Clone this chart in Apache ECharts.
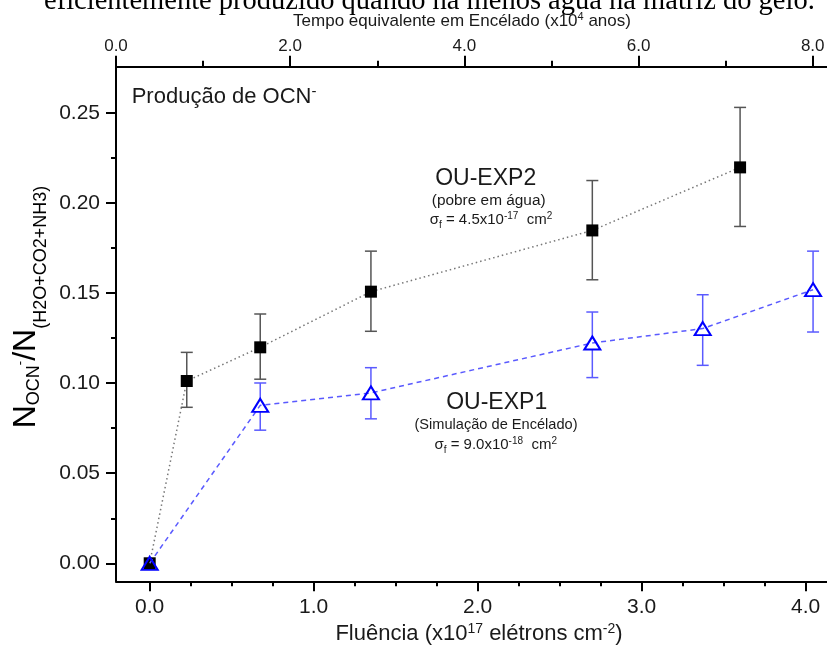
<!DOCTYPE html>
<html><head><meta charset="utf-8">
<script src="https://cdn.jsdelivr.net/npm/echarts@6/dist/echarts.min.js"></script>
<style>html,body{margin:0;padding:0;background:#fff}#c{width:827px;height:647px}</style>
</head><body><div id="c"></div>
<script>
// ---- data ----
const fluenceExp2 = [0, 0.226, 0.674, 1.349, 2.699, 3.600];
const ratioExp2   = [0, 0.1012, 0.1199, 0.1508, 0.1848, 0.2198];
const errLowExp2  = [null, 0.0866, 0.1022, 0.1288, 0.1574, 0.1870];
const errHighExp2 = [null, 0.1171, 0.1384, 0.1733, 0.2125, 0.2531];

const fluenceExp1 = [0, 0.674, 1.349, 2.699, 3.372, 4.045];
const ratioExp1   = [0, 0.0877, 0.0946, 0.1223, 0.1303, 0.1519];
const errLowExp1  = [null, 0.0739, 0.0802, 0.1031, 0.1099, 0.1284];
const errHighExp1 = [null, 0.1001, 0.1086, 0.1395, 0.1491, 0.1733];

const xTicks      = [0, 1, 2, 3, 4];
const xMinorTicks = [0.25, 0.5, 0.75, 1.25, 1.5, 1.75, 2.25, 2.5, 2.75, 3.25, 3.5, 3.75];
const yTicks      = [0, 0.05, 0.10, 0.15, 0.20, 0.25];
const yMinorTicks = [0.025, 0.075, 0.125, 0.175, 0.225];
const topTicks      = [0, 2, 4, 6, 8];
const topMinorTicks = [1, 3, 5, 7];

const X_MIN = -0.2055, X_MAX = 4.13;
const Y_MIN = -0.0100, Y_MAX = 0.2757;
const TOP_MIN = 0, TOP_MAX = 8.164;

// ---- helpers ----
const FAM = '"Liberation Sans", Arial, sans-serif';
const TXT = '#1a1a1a';
function rich(F, s) {
  const P0 = 4;
  return {
    b:   {fontSize: F, fontFamily: FAM, fill: TXT, verticalAlign: 'top', padding: [P0, 0, 0, 0]},
    sup: {fontSize: s, fontFamily: FAM, fill: TXT, verticalAlign: 'top', padding: [Math.max(0, P0 + 0.5 * F - 0.85 * s), 0, 0, 0]},
    sub: {fontSize: s, fontFamily: FAM, fill: TXT, verticalAlign: 'top', padding: [P0 + 1.07 * F - 0.85 * s, 0, 0, 0]}
  };
}
function richText(text, F, s, x, cy, align) {
  const baseline = cy + 0.36 * F;
  const top = baseline - (4 + 0.8465 * F);
  return {
    type: 'text', x: x, y: top, silent: true,
    style: {text: text, rich: rich(F, s), align: align || 'center', textAlign: align || 'center',
            verticalAlign: 'top', textVerticalAlign: 'top'}
  };
}
function plainText(text, F, x, cy, align, family, color) {
  return {
    type: 'text', x: x, y: cy, silent: true,
    style: {text: text, fontSize: F, fontFamily: family || FAM, fill: color || TXT,
            align: align || 'center', textAlign: align || 'center',
            verticalAlign: 'middle', textVerticalAlign: 'middle'}
  };
}
function errData(xs, lo, hi, ys) {
  const out = [];
  for (let i = 0; i < xs.length; i++) {
    if (lo[i] == null) continue;
    out.push([xs[i], ys[i], lo[i], hi[i]]);
  }
  return out;
}
function errRender(color, gap) {
  return function (params, api) {
    const p = api.coord([api.value(0), api.value(1)]);
    const pl = api.coord([api.value(0), api.value(2)]);
    const ph = api.coord([api.value(0), api.value(3)]);
    const hw = 6;
    const st = {stroke: color, lineWidth: 1.5};
    return {
      type: 'group',
      children: [
        {type: 'line', shape: {x1: p[0], y1: ph[1], x2: p[0], y2: p[1] - gap}, style: st},
        {type: 'line', shape: {x1: p[0], y1: p[1] + gap, x2: p[0], y2: pl[1]}, style: st},
        {type: 'line', shape: {x1: p[0] - hw, y1: ph[1], x2: p[0] + hw, y2: ph[1]}, style: st},
        {type: 'line', shape: {x1: p[0] - hw, y1: pl[1], x2: p[0] + hw, y2: pl[1]}, style: st}
      ]
    };
  };
}
function pairs(xs, ys) { return xs.map((x, i) => [x, ys[i]]); }

const AX = {color: '#000', width: 2};
const chart = echarts.init(document.getElementById('c'), null, {renderer: 'canvas'});
chart.setOption({
  animation: false,
  backgroundColor: '#fff',
  grid: {left: 116, right: 0, top: 66.7, bottom: 65.7, containLabel: false, outerBoundsMode: 'none'},
  xAxis: [
    {type: 'value', position: 'bottom', min: X_MIN, max: X_MAX,
     axisLine: {show: true, onZero: false, lineStyle: AX},
     axisTick: {show: true, customValues: xTicks, length: 10, lineStyle: AX},
     axisLabel: {show: true, customValues: xTicks, formatter: v => v.toFixed(1), fontSize: 21,
                 fontFamily: FAM, color: TXT, margin: 15},
     splitLine: {show: false}},
    {type: 'value', position: 'bottom', min: X_MIN, max: X_MAX,
     axisLine: {show: false, onZero: false},
     axisTick: {show: true, customValues: xMinorTicks, length: 5, lineStyle: AX},
     axisLabel: {show: false}, splitLine: {show: false}},
    {type: 'value', position: 'top', min: TOP_MIN, max: TOP_MAX,
     axisLine: {show: true, onZero: false, lineStyle: AX},
     axisTick: {show: true, customValues: topTicks, length: 11, lineStyle: AX},
     axisLabel: {show: true, customValues: topTicks, formatter: v => v.toFixed(1), fontSize: 17,
                 fontFamily: FAM, color: TXT, margin: 12},
     splitLine: {show: false}},
    {type: 'value', position: 'top', min: TOP_MIN, max: TOP_MAX,
     axisLine: {show: false, onZero: false},
     axisTick: {show: true, customValues: topMinorTicks, length: 6, lineStyle: AX},
     axisLabel: {show: false}, splitLine: {show: false}}
  ],
  yAxis: [
    {type: 'value', position: 'left', min: Y_MIN, max: Y_MAX,
     axisLine: {show: true, onZero: false, lineStyle: AX},
     axisTick: {show: true, customValues: yTicks, length: 10, lineStyle: AX},
     axisLabel: {show: true, customValues: yTicks, formatter: v => v.toFixed(2), fontSize: 21,
                 fontFamily: FAM, color: TXT, margin: 16},
     splitLine: {show: false}},
    {type: 'value', position: 'left', min: Y_MIN, max: Y_MAX,
     axisLine: {show: false, onZero: false},
     axisTick: {show: true, customValues: yMinorTicks, length: 5, lineStyle: AX},
     axisLabel: {show: false}, splitLine: {show: false}}
  ],
  series: [
    {type: 'custom', name: 'errExp2', xAxisIndex: 0, yAxisIndex: 0, z: 2,
     renderItem: errRender('#555555', 0), data: errData(fluenceExp2, errLowExp2, errHighExp2, ratioExp2)},
    {type: 'line', name: 'OU-EXP2', xAxisIndex: 0, yAxisIndex: 0, z: 3,
     data: pairs(fluenceExp2, ratioExp2),
     symbol: 'rect', symbolSize: 12, itemStyle: {color: '#000'},
     lineStyle: {color: '#777', width: 1.5, type: [1.5, 3]}},
    {type: 'custom', name: 'errExp1', xAxisIndex: 0, yAxisIndex: 0, z: 4,
     renderItem: errRender('#5a5aff', 6), data: errData(fluenceExp1, errLowExp1, errHighExp1, ratioExp1)},
    {type: 'line', name: 'OU-EXP1', xAxisIndex: 0, yAxisIndex: 0, z: 5,
     data: pairs(fluenceExp1, ratioExp1),
     symbol: 'triangle', symbolSize: [16, 13],
     itemStyle: {color: 'rgba(255,255,255,0)', borderColor: '#0000ff', borderWidth: 2},
     lineStyle: {color: '#5a5aff', width: 1.5, type: [5, 4]}}
  ],
  graphic: [
    plainText('eficientemente produzido quando há menos água na matriz do gelo.', 28.5, 44, 1.5, 'left',
              '"Liberation Serif", "Times New Roman", serif', '#000'),
    richText('{b|Tempo equivalente em Encélado (x10}{sup|4}{b| anos)}', 17, 11, 462, 20.7),
    richText('{b|Fluência (x10}{sup|17}{b| elétrons cm}{sup|-2}{b|)}', 22, 14, 479, 633.3),
    richText('{b|Produção de OCN}{sup|-}', 22, 15, 131.7, 96.7, 'left'),
    plainText('OU-EXP2', 23, 485.7, 178.3),
    plainText('(pobre em água)', 15.4, 488.7, 200.7),
    richText('{b|σ}{sub|f}{b| = 4.5x10}{sup|-17}{b|  cm}{sup|2}', 15, 10, 491, 220),
    plainText('OU-EXP1', 23, 496.7, 402.7),
    plainText('(Simulação de Encélado)', 14.6, 496, 425),
    richText('{b|σ}{sub|f}{b| = 9.0x10}{sup|-18}{b|  cm}{sup|2}', 15, 10, 495.7, 445),
    {type: 'text', x: 30, y: 307, rotation: Math.PI / 2, silent: true,
     style: {text: '{a|N}{b|OCN}{c|-}{a|/N}{d|(H2O+CO2+NH3)}',
             align: 'center', textAlign: 'center', verticalAlign: 'middle', textVerticalAlign: 'middle',
             rich: {
               a: {fontSize: 32, fontFamily: FAM, fill: '#000', verticalAlign: 'top', padding: [0, 0, 0, 0]},
               b: {fontSize: 18, fontFamily: FAM, fill: '#000', verticalAlign: 'top', padding: [15, 0, 0, 0]},
               c: {fontSize: 13, fontFamily: FAM, fill: '#000', verticalAlign: 'top', padding: [4, 0, 0, 0]},
               d: {fontSize: 18, fontFamily: FAM, fill: '#000', verticalAlign: 'top', padding: [22, 0, 0, 0]}
             }}}
  ]
});
</script>
</body></html>
